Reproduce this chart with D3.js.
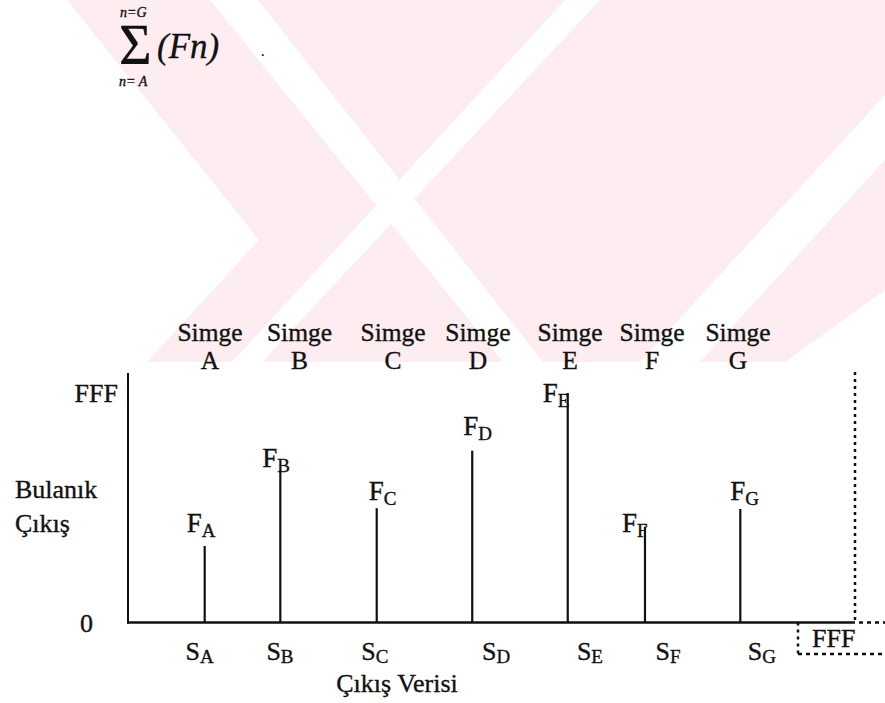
<!DOCTYPE html>
<html>
<head>
<meta charset="utf-8">
<script src="https://cdn.jsdelivr.net/npm/d3@7"></script>
<style>
  body { margin: 0; background: #fff; }
  text { font-family: "Liberation Serif", "Times New Roman", serif; fill: #111; stroke: #111; stroke-width: 0.35px; }
</style>
</head>
<body>
<div id="chart"></div>
<script>
// symbols A..G, their stem positions on the output axis (0..FFF) and fuzzy output heights
const symbols = ["A", "B", "C", "D", "E", "F", "G"];
const stemX = [432, 858, 1401, 1939, 2477, 2912, 3449];
const fuzzyOut = [1365, 2720, 2040, 3065, 4095, 1710, 2025];
// where the "Simge X" headings and the S_X crisp labels sit on the same axis
const symbolX = [462, 966, 1493, 1971, 2490, 2952, 3436];
const crispX = [403, 856, 1391, 2073, 2602, 3042, 3571];
const yTicks = [0, 4095];

// small hand placement of the F_X labels relative to the stem tops
const labelNudge = [[-18, -14], [-18, -3], [-8, -8], [-9, -16], [-25, 9], [-23, 5], [-10, -9]];

const W = 885, H = 703;
const svg = d3.select("#chart").append("svg")
    .attr("width", W).attr("height", H);

// faint watermark behind everything: pink field cut by white stripes
const wm = svg.append("g");
wm.append("polygon").attr("fill", "#fdedf0")
    .attr("points", "67,0 885,0 885,362 147,362 259,240");
const cuts = [
    [[210, 0], [258, 0], [543, 362], [503, 362]],
    [[565, 0], [600, 0], [262, 362], [232, 362]],
    [[885, 95], [885, 160], [700, 362], [640, 362]],
    [[885, 290], [885, 362], [785, 362]]
];
wm.selectAll(".cut").data(cuts).enter().append("polygon")
    .attr("class", "cut").attr("fill", "#fff")
    .attr("points", d => d.map(p => p.join(",")).join(" "));

const x = d3.scaleLinear().domain([0, 4095]).range([128, 855]);
const y = d3.scaleLinear().domain([0, 4095]).range([622.5, 393]);

// summation heading
const head = svg.append("g");
head.append("text").attr("x", 119).attr("y", 64).attr("font-size", 56).text("Σ");
head.append("text").attr("x", 120).attr("y", 17).attr("font-size", 14).attr("font-style", "italic").text("n=G");
head.append("text").attr("x", 119).attr("y", 86).attr("font-size", 14).attr("font-style", "italic").text("n= A");
head.append("text").attr("x", 157).attr("y", 58).attr("font-size", 35).attr("font-style", "italic").text("(Fn)");
head.append("text").attr("x", 261).attr("y", 56).attr("font-size", 14).text(".");

// y axis
const yAxis = d3.axisLeft(y).tickValues(yTicks).tickSize(0).tickPadding(10)
    .tickFormat(d => d.toString(16).toUpperCase());
const gy = svg.append("g").attr("transform", "translate(128,0)").call(yAxis);
gy.select(".domain").remove();
gy.selectAll("text").attr("font-size", 26).attr("font-family", "Liberation Serif")
    .attr("fill", "#111").attr("dy", "0.33em")
    .attr("dx", d => d === 0 ? -25 : 0);
svg.append("line").attr("x1", 128).attr("x2", 128).attr("y1", 373).attr("y2", y(0) + 1)
    .attr("stroke", "#111").attr("stroke-width", 2);

// x axis baseline
svg.append("line").attr("x1", 127).attr("x2", x(4095)).attr("y1", y(0)).attr("y2", y(0))
    .attr("stroke", "#111").attr("stroke-width", 2.5);

// dotted FFF marker at the right end
const dots = svg.append("g").attr("stroke", "#111").attr("stroke-width", 2.5).attr("fill", "none");
dots.append("line").attr("x1", x(4095)).attr("x2", x(4095)).attr("y1", 372).attr("y2", y(0))
    .attr("stroke-dasharray", "3,4");
dots.append("line").attr("x1", x(4095) + 4).attr("x2", W).attr("y1", y(0)).attr("y2", y(0))
    .attr("stroke-dasharray", "4,4");
dots.append("line").attr("x1", 798).attr("x2", 798).attr("y1", y(0)).attr("y2", 654)
    .attr("stroke-dasharray", "3,4");
dots.append("line").attr("x1", 798).attr("x2", W).attr("y1", 654).attr("y2", 654)
    .attr("stroke-dasharray", "4,4");
svg.append("text").attr("x", 812).attr("y", 647).attr("font-size", 26).text("FFF");

// stems
svg.selectAll(".stem").data(symbols).enter().append("line")
    .attr("class", "stem")
    .attr("x1", (d, i) => x(stemX[i])).attr("x2", (d, i) => x(stemX[i]))
    .attr("y1", y(0)).attr("y2", (d, i) => y(fuzzyOut[i]))
    .attr("stroke", "#111").attr("stroke-width", 2.2);

// F_X labels
const fl = svg.selectAll(".flab").data(symbols).enter().append("text")
    .attr("class", "flab")
    .attr("x", (d, i) => x(stemX[i]) + labelNudge[i][0])
    .attr("y", (d, i) => y(fuzzyOut[i]) + labelNudge[i][1])
    .attr("font-size", 27);
fl.append("tspan").text("F");
fl.append("tspan").attr("font-size", 19).attr("dy", 5).text(d => d);

// Simge headings, two lines each
const simgeRow = svg.selectAll(".simge").data(symbols).enter();
simgeRow.append("text").attr("class", "simge").attr("text-anchor", "middle")
    .attr("x", (d, i) => x(symbolX[i])).attr("y", 341)
    .attr("font-size", 25.5).text("Simge");
simgeRow.append("text").attr("class", "simge-l").attr("text-anchor", "middle")
    .attr("x", (d, i) => x(symbolX[i])).attr("y", 369)
    .attr("font-size", 25.5).text(d => d);

// S_X crisp labels
const sl = svg.selectAll(".slab").data(symbols).enter().append("text")
    .attr("class", "slab").attr("text-anchor", "middle")
    .attr("x", (d, i) => x(crispX[i]))
    .attr("y", 660).attr("font-size", 26);
sl.append("tspan").text("S");
sl.append("tspan").attr("font-size", 19).attr("dy", 3).text(d => d);

// axis titles
svg.append("text").attr("x", 15).attr("y", 498).attr("font-size", 26).text("Bulanık");
svg.append("text").attr("x", 15).attr("y", 532).attr("font-size", 26).text("Çıkış");
svg.append("text").attr("x", 397).attr("y", 692).attr("text-anchor", "middle")
    .attr("font-size", 26).text("Çıkış Verisi");
</script>
</body>
</html>
